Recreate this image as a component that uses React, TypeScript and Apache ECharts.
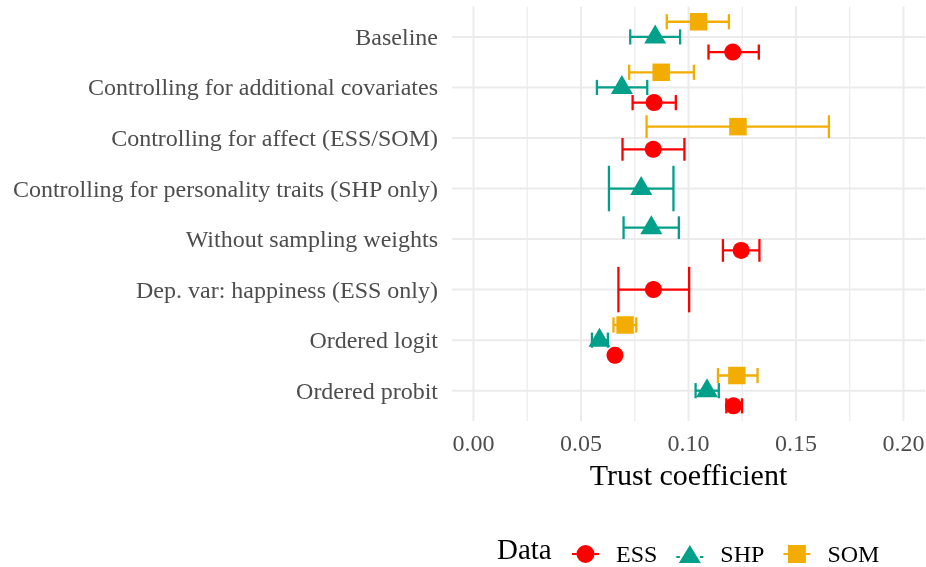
import React, { useEffect, useRef } from "react";
import * as echarts from "echarts";

const categories = [
  "Baseline",
  "Controlling for additional covariates",
  "Controlling for affect (ESS/SOM)",
  "Controlling for personality traits (SHP only)",
  "Without sampling weights",
  "Dep. var: happiness (ESS only)",
  "Ordered logit",
  "Ordered probit",
];

const essEst = [0.1206, 0.084, 0.0836, null, 0.1245, 0.0837, 0.0658, 0.1209];
const essLow = [0.1093, 0.074, 0.0693, null, 0.116, 0.0674, 0.0645, 0.1176];
const essHigh = [0.1327, 0.0941, 0.0981, null, 0.133, 0.1003, 0.0671, 0.1249];

const shpEst = [0.0845, 0.069, null, 0.078, 0.0827, null, 0.0586, 0.1086];
const shpLow = [0.0729, 0.0574, null, 0.063, 0.0698, null, 0.0551, 0.1033];
const shpHigh = [0.0961, 0.0808, null, 0.093, 0.0955, null, 0.0625, 0.1141];

const somEst = [0.1047, 0.0873, 0.123, null, null, null, 0.0705, 0.1225];
const somLow = [0.0899, 0.0724, 0.0805, null, null, null, 0.0651, 0.1137];
const somHigh = [0.1188, 0.1025, 0.1653, null, null, null, 0.0757, 0.1321];

const xMajorTicks = [0, 0.05, 0.1, 0.15, 0.2];
const xMinorTicks = [0.025, 0.075, 0.125, 0.175];

const FONT = "'Liberation Serif', 'Times New Roman', serif";
const DODGE = 0.9;

type Group = { name: string; color: string; est: (number | null)[]; low: (number | null)[]; high: (number | null)[] };

const groups: Group[] = [
  { name: "SOM", color: "#F2AD00", est: somEst, low: somLow, high: somHigh },
  { name: "SHP", color: "#00A08A", est: shpEst, low: shpLow, high: shpHigh },
  { name: "ESS", color: "#FF0000", est: essEst, low: essLow, high: essHigh },
];

function dodge(groupIdx: number, catIdx: number) {
  const present = groups.map((g, i) => (g.est[catIdx] != null ? i : -1)).filter((i) => i >= 0);
  const n = present.length;
  const k = present.indexOf(groupIdx);
  const w = DODGE / n;
  return { pos: catIdx + (k - (n - 1) / 2) * w, half: w / 2 };
}

const symbols: Record<string, any> = {
  ESS: { symbol: "circle", symbolSize: 17, symbolOffset: [0, 0] },
  SHP: { symbol: "triangle", symbolSize: [22, 19], symbolOffset: [0, -3] },
  SOM: { symbol: "rect", symbolSize: 17.5, symbolOffset: [0, 0] },
};

const legendIcons: Record<string, string> = {
  ESS: "path://M0,8h4.5v2h-4.5z M22.5,8h4.5v2h-4.5z M4.5,9a9,9 0 1,0 18,0a9,9 0 1,0 -18,0z",
  SHP: "path://M0,11h3.5v2h-3.5z M23.5,11h3.5v2h-3.5z M2.5,18L13.5,0L24.5,18z",
  SOM: "path://M0,8h4.5v2h-4.5z M22.5,8h4.5v2h-4.5z M4.5,0h18v18h-18z",
};

export default function App() {
  const ref = useRef<HTMLDivElement>(null);
  useEffect(() => {
    if (!ref.current) return;
    const chart = echarts.init(ref.current, undefined, { renderer: "svg" });

    const gridSeries: any = {
      type: "custom",
      name: "grid",
      silent: true,
      z: 0,
      data: [
        ...xMinorTicks.map((v) => [v, 0, 0]),
        ...xMajorTicks.map((v) => [v, 0, 1]),
        ...categories.map((_, i) => [0, i, 2]),
      ],
      encode: { x: 0, y: 1 },
      renderItem: (params: any, api: any) => {
        const cs = params.coordSys;
        const kind = api.value(2);
        if (kind === 2) {
          const y = api.coord([0, api.value(1)])[1];
          return {
            type: "line",
            shape: { x1: cs.x, y1: y, x2: cs.x + cs.width, y2: y },
            style: { stroke: "#EBEBEB", lineWidth: 2 },
          };
        }
        const x = api.coord([api.value(0), 0])[0];
        return {
          type: "line",
          shape: { x1: x, y1: cs.y, x2: x, y2: cs.y + cs.height },
          style: { stroke: "#EBEBEB", lineWidth: kind === 1 ? 2 : 1.2 },
        };
      },
    };

    const errSeries = groups.map((g, gi) => ({
      type: "custom",
      name: g.name + " CI",
      z: 2,
      data: g.est
        .map((e, ci) => {
          if (e == null) return null;
          const d = dodge(gi, ci);
          return [g.low[ci], g.high[ci], d.pos, d.half];
        })
        .filter((d) => d != null),
      encode: { x: [0, 1], y: 2 },
      renderItem: (_params: any, api: any) => {
        const lo = api.coord([api.value(0), api.value(2)]);
        const hi = api.coord([api.value(1), api.value(2)]);
        const h = Math.abs(api.size([0, api.value(3)])[1]);
        const style = { stroke: g.color, lineWidth: 2.3 };
        return {
          type: "group",
          children: [
            { type: "line", shape: { x1: lo[0], y1: lo[1], x2: hi[0], y2: hi[1] }, style },
            { type: "line", shape: { x1: lo[0], y1: lo[1] - h, x2: lo[0], y2: lo[1] + h }, style },
            { type: "line", shape: { x1: hi[0], y1: hi[1] - h, x2: hi[0], y2: hi[1] + h }, style },
          ],
        };
      },
    }));

    const pointSeries = groups.map((g, gi) => ({
      type: "scatter",
      name: g.name,
      z: 3,
      ...symbols[g.name],
      itemStyle: { color: g.color, opacity: 1 },
      data: g.est
        .map((e, ci) => (e == null ? null : [e, dodge(gi, ci).pos]))
        .filter((d) => d != null),
    }));

    chart.setOption({
      animation: false,
      textStyle: { fontFamily: FONT },
      title: {
        text: "Data",
        left: 497,
        top: 534,
        padding: 0,
        textStyle: { fontSize: 29, fontWeight: "normal", color: "#000", fontFamily: FONT },
      },
      legend: {
        left: 572,
        top: 542,
        padding: 0,
        itemWidth: 27,
        itemHeight: 18,
        itemGap: 19,
        data: ["ESS", "SHP", "SOM"].map((n) => ({ name: n, icon: legendIcons[n] })),
        textStyle: { fontSize: 24, color: "#000", fontFamily: FONT, padding: [0, 0, 0, 12] },
      },
      grid: { left: 452, right: 1, top: 6.6, bottom: 146, containLabel: false, outerBoundsMode: "none" },
      xAxis: {
        type: "value",
        min: -0.01,
        max: 0.21,
        name: "Trust coefficient",
        nameLocation: "middle",
        nameGap: 24,
        nameTextStyle: { fontSize: 30, color: "#000", fontFamily: FONT },
        axisLine: { show: false },
        axisTick: { show: false },
        splitLine: { show: false },
        axisLabel: {
          customValues: xMajorTicks,
          formatter: (v: number) => v.toFixed(2),
          fontSize: 24,
          color: "#4D4D4D",
          fontFamily: FONT,
          margin: 10,
        },
      },
      yAxis: {
        type: "value",
        min: -0.6,
        max: 7.6,
        inverse: true,
        axisLine: { show: false },
        axisTick: { show: false },
        splitLine: { show: false },
        axisLabel: {
          customValues: categories.map((_, i) => i),
          formatter: (v: number) => categories[Math.round(v)] ?? "",
          fontSize: 24,
          color: "#4D4D4D",
          fontFamily: FONT,
          margin: 14,
        },
      },
      series: [gridSeries, ...errSeries, ...pointSeries],
    });
    return () => chart.dispose();
  }, []);
  return <div ref={ref} style={{ position: "fixed", left: 0, top: 0, width: 926, height: 567 }} />;
}
